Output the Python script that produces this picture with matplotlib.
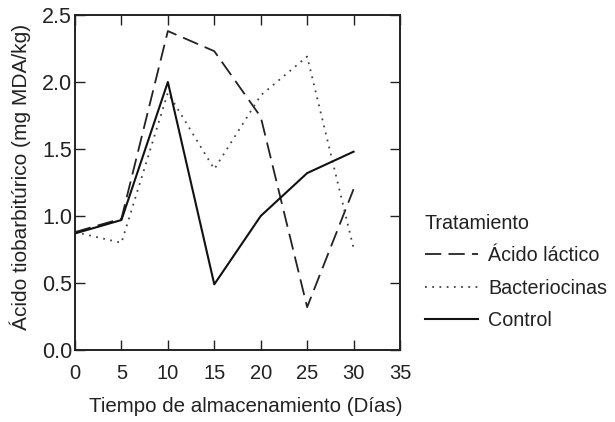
import numpy as np
import matplotlib.pyplot as plt

plt.rcParams['font.family'] = ['Liberation Sans', 'DejaVu Sans']

dias = [0, 5, 10, 15, 20, 25, 30]
acido_lactico = [0.88, 0.98, 2.38, 2.23, 1.74, 0.32, 1.20]
bacteriocinas = [0.88, 0.80, 1.92, 1.35, 1.90, 2.19, 0.76]
control = [0.87, 0.97, 2.00, 0.49, 1.00, 1.32, 1.48]

fig = plt.figure(figsize=(6.15, 4.22), dpi=100)
ax = fig.add_axes([75/615, 1 - 350/422, 325/615, 335/422])

ax.plot(dias, acido_lactico, color='#222222', lw=1.3, linestyle=(0, (9, 4)), label='Ácido láctico')
ax.plot(dias, bacteriocinas, color='#444444', lw=1.3, linestyle=(0, (1, 3)), label='Bacteriocinas')
ax.plot(dias, control, color='#111111', lw=1.5, linestyle='-', label='Control')

ax.set_xlim(0, 35)
ax.set_ylim(0, 2.5)
ax.set_xticks(np.arange(0, 36, 5))
ax.set_yticks([0.0, 0.5, 1.0, 1.5, 2.0, 2.5])
ax.set_yticklabels(['0.0', '0.5', '1.0', '1.5', '2.0', '2.5'])
ax.tick_params(direction='in', top=True, right=True, length=7, width=1, colors='#222222')
ax.tick_params(axis='x', labelsize=14.5, pad=10)
ax.tick_params(axis='y', labelsize=15.5, pad=2)
for s in ax.spines.values():
    s.set_linewidth(1.4)
    s.set_color('#222222')

ax.set_xlabel('Tiempo de almacenamiento (Días)', fontsize=14.8, color='#222222')
ax.xaxis.set_label_coords(0.526, -0.14)
ax.set_ylabel('Ácido tiobarbitúrico (mg MDA/kg)', fontsize=15, color='#222222')
ax.yaxis.set_label_coords(-0.135, 0.516)

leg = ax.legend(title='Tratamiento', loc='upper left', bbox_to_anchor=(411/615, 1 - 200/422),
                bbox_transform=fig.transFigure, frameon=False, fontsize=14.2, title_fontsize=14.2,
                handlelength=2.7, handletextpad=0.5, labelspacing=0.68, borderpad=0.2)
leg._legend_box.align = 'left'
for t in leg.get_texts():
    t.set_color('#222222')
leg.get_title().set_color('#222222')

fig.savefig('out.png', dpi=100)
